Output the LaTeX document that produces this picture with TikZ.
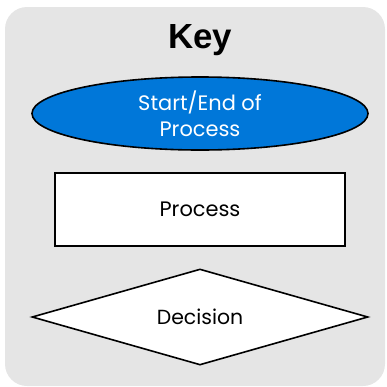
\documentclass[tikz,border=0pt]{standalone}
\usepackage{fontspec}
\setmainfont{Poppins}
\newfontfamily\keyfont{Liberation Sans}
\usetikzlibrary{shapes.geometric}
\definecolor{keyblue}{HTML}{0077D9}
\definecolor{keygray}{HTML}{E5E5E5}

\tikzset{
  keyshape/.style={draw=black, line width=1.6bp, inner sep=0pt},
  terminal/.style={keyshape, ellipse, fill=keyblue, text=white,
    minimum width=336bp, minimum height=73bp, align=center,
    font=\fontsize{21}{26}\selectfont},
  processbox/.style={keyshape, rectangle, fill=white,
    minimum width=290bp, minimum height=73bp,
    font=\fontsize{21}{24}\selectfont},
  decisionbox/.style={keyshape, diamond, fill=white, shape aspect=3.5,
    minimum width=336bp, minimum height=96bp,
    font=\fontsize{20.5}{24}\selectfont}
}

\begin{document}
\begin{tikzpicture}[x=1bp,y=-1bp]
  \useasboundingbox (0,0) rectangle (387,387);
  % grey panel
  \fill[keygray, rounded corners=22bp] (5,7) rectangle (385,386);

  \node[font=\keyfont\bfseries\fontsize{35}{38}\selectfont] (key) at (200,40) {Key};
  \node[terminal] (startend) at (200,113.5) {Start/End of\\Process};
  \node[processbox] (process) at (200,209.5) {Process};
  \node[decisionbox] (decision) at (200,317) {Decision};
\end{tikzpicture}
\end{document}
